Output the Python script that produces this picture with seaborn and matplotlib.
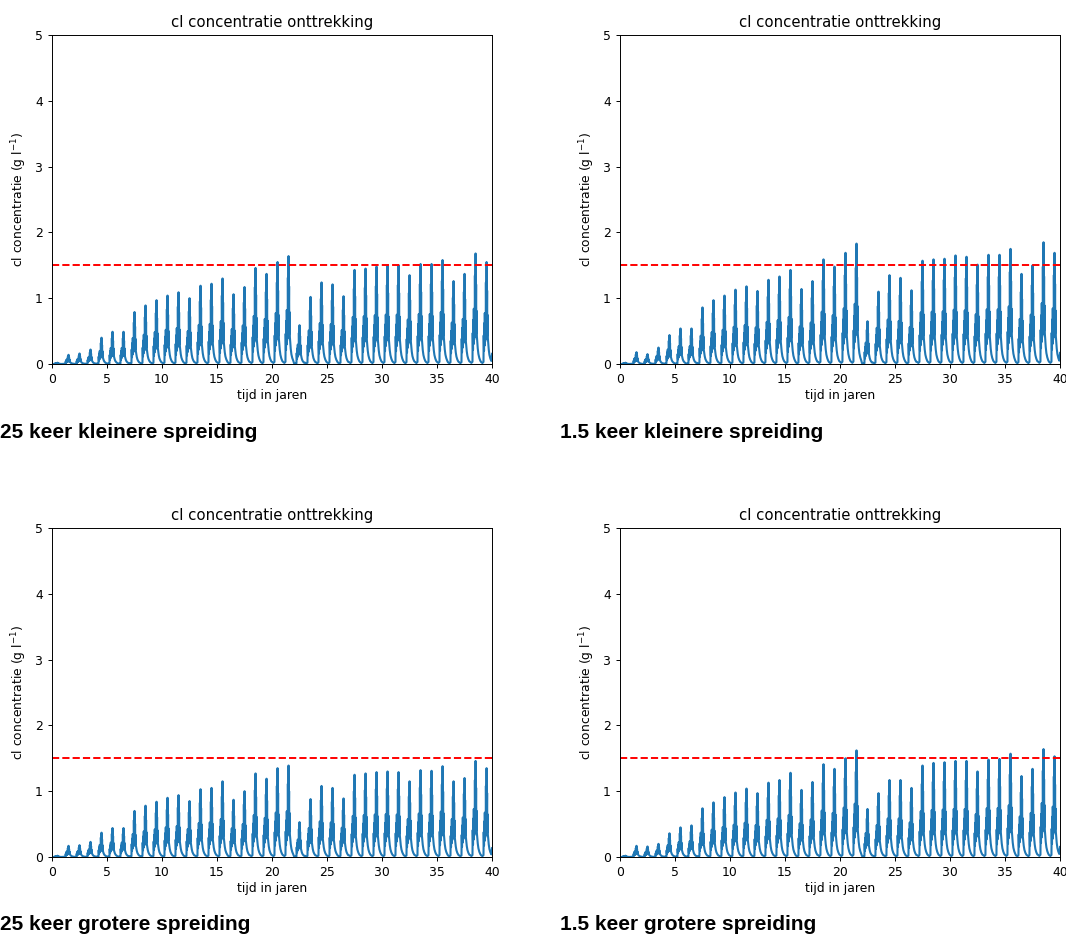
import numpy as np
import pandas as pd
import matplotlib
matplotlib.use("Agg")
import matplotlib.pyplot as plt
import seaborn as sns

# yearly peak concentration (g/l), read at year + 0.5, years 0..39
peaks_kleiner_25 = [0.02, 0.14, 0.16, 0.22, 0.40, 0.49, 0.49, 0.79, 0.89, 0.97,
                    1.04, 1.09, 1.00, 1.19, 1.22, 1.30, 1.06, 1.17, 1.46, 1.37,
                    1.55, 1.64, 0.59, 1.02, 1.24, 1.21, 1.03, 1.43, 1.45, 1.48,
                    1.50, 1.50, 1.35, 1.52, 1.52, 1.58, 1.26, 1.37, 1.68, 1.55]
peaks_kleiner_15 = [0.02, 0.18, 0.15, 0.25, 0.44, 0.54, 0.54, 0.86, 0.97, 1.04,
                    1.13, 1.18, 1.11, 1.28, 1.33, 1.43, 1.14, 1.26, 1.59, 1.48,
                    1.69, 1.83, 0.65, 1.10, 1.35, 1.31, 1.12, 1.57, 1.59, 1.60,
                    1.65, 1.63, 1.51, 1.66, 1.66, 1.75, 1.37, 1.50, 1.85, 1.69]
peaks_groter_25 = [0.02, 0.17, 0.18, 0.23, 0.37, 0.44, 0.44, 0.70, 0.78, 0.84,
                   0.90, 0.94, 0.85, 1.03, 1.05, 1.15, 0.87, 1.00, 1.27, 1.19,
                   1.35, 1.39, 0.53, 0.88, 1.08, 1.05, 0.89, 1.25, 1.27, 1.29,
                   1.30, 1.29, 1.15, 1.32, 1.31, 1.38, 1.15, 1.20, 1.46, 1.35]
peaks_groter_15 = [0.02, 0.17, 0.16, 0.20, 0.36, 0.45, 0.48, 0.74, 0.83, 0.91,
                   0.98, 1.04, 0.97, 1.13, 1.17, 1.28, 1.02, 1.14, 1.41, 1.34,
                   1.50, 1.62, 0.73, 0.97, 1.17, 1.17, 1.05, 1.39, 1.43, 1.44,
                   1.46, 1.46, 1.30, 1.48, 1.49, 1.57, 1.23, 1.34, 1.64, 1.53]

# shape of a typical year (offset in years, fraction of that year's peak)
year_offset = [0.00, 0.12, 0.22, 0.24, 0.27, 0.29, 0.32, 0.34, 0.37, 0.39,
               0.42, 0.44, 0.47, 0.49, 0.50, 0.52, 0.55, 0.57, 0.60, 0.62,
               0.66, 0.70, 0.76, 0.84, 0.93]
year_shape = [0.02, 0.01, 0.02, 0.28, 0.13, 0.40, 0.18, 0.50, 0.22, 0.45,
              0.24, 0.80, 0.30, 0.58, 1.00, 0.36, 0.72, 0.28, 0.48, 0.25,
              0.19, 0.14, 0.09, 0.055, 0.03]

limiet = 1.5
captions = ["25 keer kleinere spreiding", "1.5 keer kleinere spreiding",
            "25 keer grotere spreiding", "1.5 keer grotere spreiding"]
all_peaks = [peaks_kleiner_25, peaks_kleiner_15, peaks_groter_25, peaks_groter_15]


def build_series(peaks):
    t, c = [], []
    for year, pk in enumerate(peaks):
        for dt, rel in zip(year_offset, year_shape):
            t.append(year + dt)
            c.append(pk * rel)
    t.append(40.0)
    c.append(peaks[-1] * 0.10)
    return pd.DataFrame({"tijd": t, "conc": c})


plt.rcParams.update({"font.size": 8.9, "axes.titlesize": 10.7,
                     "axes.labelsize": 8.9, "xtick.labelsize": 8.9,
                     "ytick.labelsize": 8.9})

fig = plt.figure(figsize=(10.66, 9.36), dpi=100)
positions = [(0.0488, 0.6111), (0.5816, 0.6111), (0.0488, 0.0844), (0.5816, 0.0844)]
caption_xy = [(0.0, 1 - 432 / 936), (560 / 1066, 1 - 432 / 936),
              (0.0, 1 - 925 / 936), (560 / 1066, 1 - 925 / 936)]

for peaks, (x0, y0), cap, (cx, cy) in zip(all_peaks, positions, captions, caption_xy):
    ax = fig.add_axes([x0, y0, 0.4128, 0.3515])
    df = build_series(peaks)
    sns.lineplot(data=df, x="tijd", y="conc", ax=ax, color="#1f77b4",
                 linewidth=1.5, estimator=None, sort=False)
    ax.axhline(limiet, color="red", linestyle="--", linewidth=1.4)
    ax.set_xlim(0, 40)
    ax.set_ylim(0, 5)
    ax.set_title("cl concentratie onttrekking")
    ax.set_xlabel("tijd in jaren", labelpad=2)
    ax.set_ylabel("cl concentratie (g l$^{-1}$)")
    ax.tick_params(length=3.1, width=0.7)
    for s in ax.spines.values():
        s.set_linewidth(0.7)
    fig.text(cx, cy, cap, fontsize=15, fontweight="bold",
             family="Liberation Sans", va="center", ha="left")

fig.savefig("out.png", dpi=100)
